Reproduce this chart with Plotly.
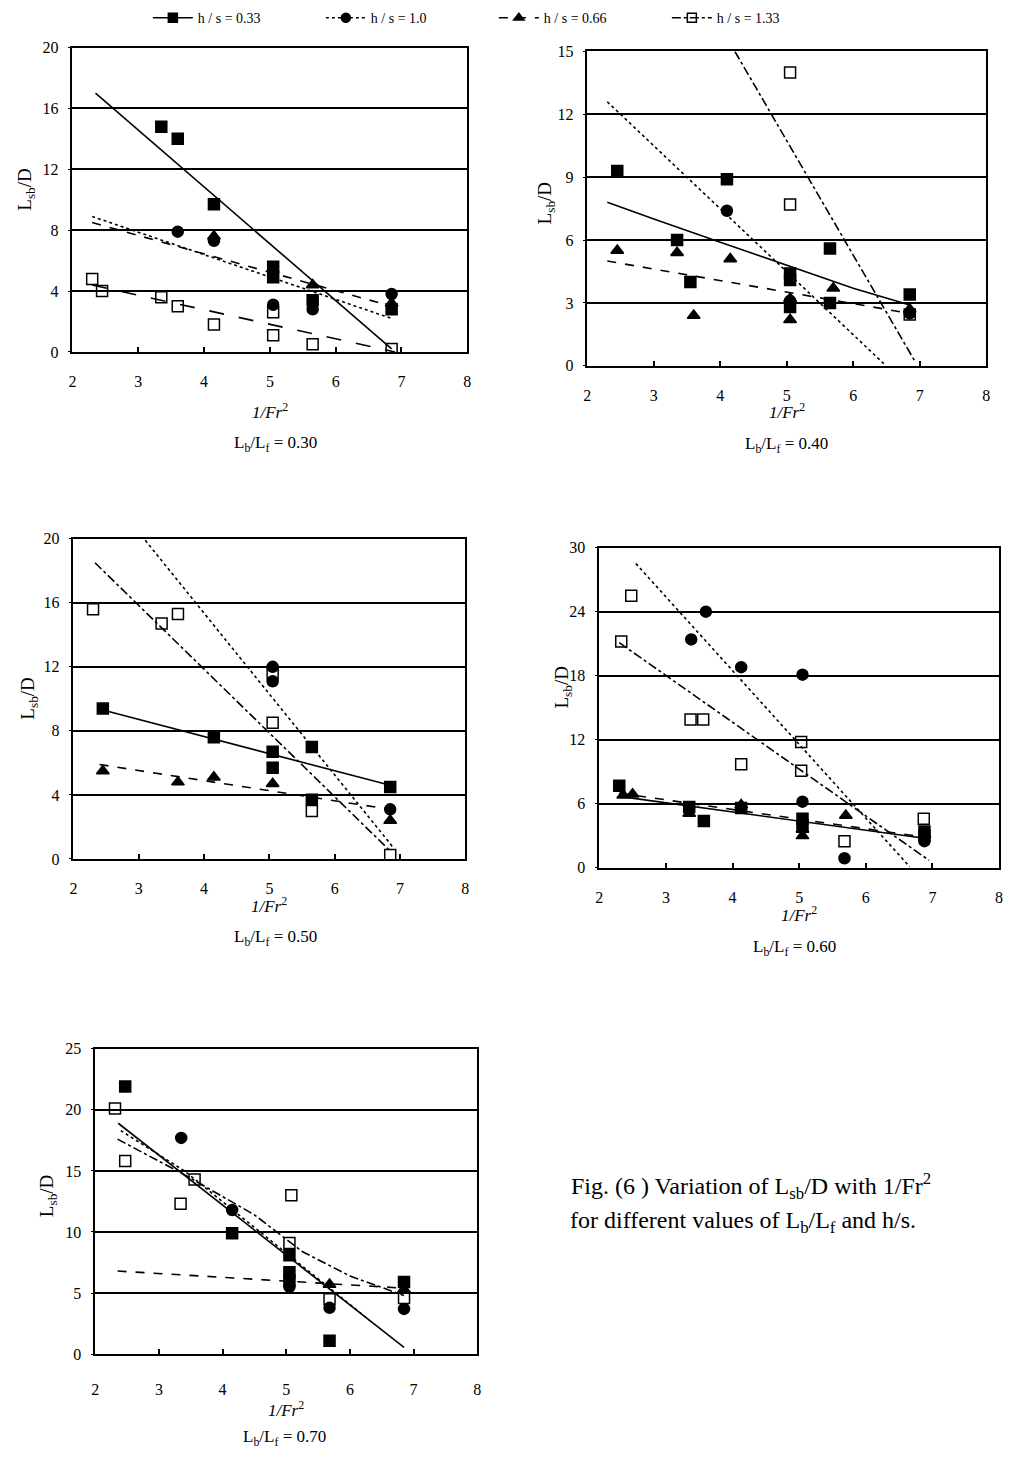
import plotly.graph_objects as go

W, H = 1012, 1459

# ---------------- DATA ----------------
SERIES = ["h / s = 0.33", "h / s = 1.0", "h / s = 0.66", "h / s = 1.33"]

# Panel Lb/Lf = 0.30
X30_H033 = [3.35, 3.6, 4.15, 5.05, 5.05, 5.65, 6.85]
Y30_H033 = [14.8, 14.0, 9.7, 5.6, 4.9, 3.4, 2.8]
X30_H10 = [3.6, 4.15, 5.05, 5.65, 6.85]
Y30_H10 = [7.9, 7.3, 3.1, 2.8, 3.8]
X30_H066 = [4.15, 5.65, 6.85]
Y30_H066 = [7.6, 4.4, 3.2]
X30_H133 = [2.3, 2.45, 3.35, 3.6, 4.15, 5.05, 5.05, 5.65, 6.85]
Y30_H133 = [4.8, 4.0, 3.6, 3.0, 1.8, 2.6, 1.1, 0.5, 0.2]
T30_H033 = ([2.35, 6.85], [17.0, 0.2])
T30_H10 = ([2.3, 6.85], [8.9, 2.2])
T30_H066 = ([2.3, 6.85], [8.5, 3.0])
T30_H133 = ([2.3, 6.9], [4.4, 0.0])

# Panel Lb/Lf = 0.40
X40_H033 = [2.45, 3.35, 3.55, 4.1, 5.05, 5.05, 5.05, 5.65, 5.65, 6.85]
Y40_H033 = [9.3, 6.0, 4.0, 8.9, 4.4, 4.1, 2.8, 5.6, 3.0, 3.4]
X40_H10 = [4.1, 5.05, 6.85]
Y40_H10 = [7.4, 3.1, 2.5]
X40_H066 = [2.45, 3.35, 3.6, 4.15, 5.05, 5.05, 5.7, 6.85]
Y40_H066 = [5.5, 5.4, 2.4, 5.1, 3.2, 2.2, 3.7, 2.7]
X40_H133 = [5.05, 5.05, 6.85]
Y40_H133 = [14.0, 7.7, 2.45]
T40_H033 = ([2.3, 3.0, 4.0, 5.0, 6.0, 6.85], [7.8, 7.0, 5.9, 4.8, 3.7, 2.9])
T40_H10 = ([2.3, 6.46], [12.6, 0.1])
T40_H066 = ([2.3, 6.85], [5.0, 2.5])
T40_H133 = ([4.22, 6.93], [15.0, 0.2])

# Panel Lb/Lf = 0.50
X50_H033 = [2.45, 4.15, 5.05, 5.05, 5.65, 5.65, 6.85]
Y50_H033 = [9.4, 7.6, 6.7, 5.7, 7.0, 3.7, 4.5]
X50_H10 = [5.05, 5.05, 6.85]
Y50_H10 = [12.0, 11.1, 3.1]
X50_H066 = [2.45, 3.6, 4.15, 5.05, 6.85]
Y50_H066 = [5.5, 4.8, 5.1, 4.7, 2.4]
X50_H133 = [2.3, 3.35, 3.6, 5.05, 5.05, 5.65, 6.85]
Y50_H133 = [15.6, 14.7, 15.3, 11.6, 8.5, 3.0, 0.25]
T50_H033 = ([2.45, 6.85], [9.3, 4.6])
T50_H10 = ([3.1, 6.9], [19.9, 0.7])
T50_H066 = ([2.4, 6.85], [5.9, 3.1])
T50_H133 = ([2.33, 6.85], [18.5, 0.5])

# Panel Lb/Lf = 0.60
X60_H033 = [2.3, 3.35, 3.57, 4.13, 5.05, 5.05, 6.88, 6.88]
Y60_H033 = [7.7, 5.7, 4.4, 5.6, 4.6, 4.0, 3.4, 3.0]
X60_H10 = [3.38, 3.6, 4.13, 5.05, 5.05, 5.68, 6.88]
Y60_H10 = [21.4, 24.0, 18.8, 18.1, 6.2, 0.9, 2.5]
X60_H066 = [2.36, 2.5, 3.35, 4.13, 5.05, 5.05, 5.7, 6.88]
Y60_H066 = [6.8, 6.9, 5.1, 5.9, 3.6, 3.0, 4.9, 3.1]
X60_H133 = [2.33, 2.48, 3.37, 3.56, 4.13, 5.03, 5.03, 5.68, 6.87]
Y60_H133 = [21.2, 25.5, 13.9, 13.9, 9.7, 11.8, 9.1, 2.5, 4.6]
T60_H033 = ([2.3, 6.85], [6.7, 2.8])
T60_H10 = ([2.55, 6.66], [28.5, 0.1])
T60_H066 = ([2.3, 6.85], [7.0, 2.9])
T60_H133 = ([2.3, 6.95], [21.1, 0.7])

# Panel Lb/Lf = 0.70
X70_H033 = [2.47, 4.15, 5.05, 5.05, 5.05, 5.68, 6.85]
Y70_H033 = [21.9, 9.9, 8.1, 6.7, 6.0, 1.1, 5.9]
X70_H10 = [3.35, 4.15, 5.05, 5.68, 6.85]
Y70_H10 = [17.7, 11.8, 5.5, 3.8, 3.7]
X70_H066 = [5.68, 6.85]
Y70_H066 = [5.7, 5.3]
X70_H133 = [2.31, 2.47, 3.34, 3.56, 5.08, 5.05, 5.68, 6.85]
Y70_H133 = [20.1, 15.8, 12.3, 14.3, 13.0, 9.1, 4.5, 4.6]
T70_H033 = ([2.36, 6.85], [18.9, 0.55])
T70_H10 = ([2.4, 3.4, 6.3], [18.3, 15.0, 2.8])
T70_H066 = ([2.35, 6.85], [6.8, 5.4])
T70_H133 = ([2.35, 3.5, 4.5, 5.25, 6.0, 6.85], [17.6, 14.4, 11.4, 8.4, 6.4, 4.8])

PANEL_LABELS = ["0.30", "0.40", "0.50", "0.60", "0.70"]
Y_MAX = [20, 15, 20, 30, 25]
Y_STEP = [4, 3, 4, 6, 5]

PANEL_POINTS = [
    [(X30_H033, Y30_H033), (X30_H10, Y30_H10), (X30_H066, Y30_H066), (X30_H133, Y30_H133)],
    [(X40_H033, Y40_H033), (X40_H10, Y40_H10), (X40_H066, Y40_H066), (X40_H133, Y40_H133)],
    [(X50_H033, Y50_H033), (X50_H10, Y50_H10), (X50_H066, Y50_H066), (X50_H133, Y50_H133)],
    [(X60_H033, Y60_H033), (X60_H10, Y60_H10), (X60_H066, Y60_H066), (X60_H133, Y60_H133)],
    [(X70_H033, Y70_H033), (X70_H10, Y70_H10), (X70_H066, Y70_H066), (X70_H133, Y70_H133)],
]
PANEL_TRENDS = [
    [T30_H033, T30_H10, T30_H066, T30_H133],
    [T40_H033, T40_H10, T40_H066, T40_H133],
    [T50_H033, T50_H10, T50_H066, T50_H133],
    [T60_H033, T60_H10, T60_H066, T60_H133],
    [T70_H033, T70_H10, T70_H066, T70_H133],
]

# ---------------- STYLE / LAYOUT ----------------
SYMBOLS = ["square", "circle", "triangle-up", "square-open"]
DASHES = ["solid", "dot", "dash", "dashdot"]
PANEL_DASH_133 = ["longdash", "dashdot", "dashdot", "dashdot", "dashdot"]

# plot-area boxes in pixels: (left, right, top, bottom)
BOXES = [
    (69, 467, 40, 348),
    (588, 990, 44, 362),
    (70, 465, 537, 861),
    (600, 1003, 546, 870),
    (92, 477, 1053, 1362),
]
XTITLE_Y = [408, 408, 908, 917, 1418]
CAPTION_Y = [441, 442, 941, 951, 1447]
CAPTION_X_SHIFT = [6, 0, 6, -5, -2]
YTITLE_X = [22, 546, 25, 563, 45]
YTITLE_SHIFT = [-10, -5, 0, -20, -5]
XLABEL_STANDOFF = [14, 14, 14, 14, 20]

FONT = "Liberation Serif"

fig = go.Figure()
layout = dict(
    width=W, height=H,
    margin=dict(l=0, r=0, t=0, b=0),
    paper_bgcolor="white", plot_bgcolor="white",
    font=dict(family=FONT, color="black", size=15),
    showlegend=True,
    legend=dict(orientation="h", x=145 / W, y=1 + 6 / H, xanchor="left", yanchor="top",
                font=dict(family=FONT, size=14), entrywidth=118, entrywidthmode="pixels",
                bgcolor="rgba(0,0,0,0)", itemwidth=40, tracegroupgap=0),
)
annotations = []

for i in range(5):
    l, r, t, b = BOXES[i]
    xa = "xaxis" if i == 0 else f"xaxis{i+1}"
    ya = "yaxis" if i == 0 else f"yaxis{i+1}"
    xr = "x" if i == 0 else f"x{i+1}"
    yr = "y" if i == 0 else f"y{i+1}"
    layout[xa] = dict(domain=[l / W, r / W], anchor=yr, range=[2, 8], dtick=1, tick0=2,
                      showgrid=False, zeroline=False, showline=True, linecolor="black",
                      linewidth=1.5, mirror=True, ticks="inside", ticklen=5, tickcolor="black",
                      tickwidth=1.5, ticklabelstandoff=XLABEL_STANDOFF[i],
                      tickfont=dict(family=FONT, size=16))
    layout[ya] = dict(domain=[1 - b / H, 1 - t / H], anchor=xr, range=[0, Y_MAX[i]],
                      dtick=Y_STEP[i], tick0=0, showgrid=True, gridcolor="black", gridwidth=1.6,
                      zeroline=False, showline=True, linecolor="black", linewidth=1.5,
                      mirror=True, ticks="outside", ticklen=3, tickcolor="black",
                      ticklabelstandoff=6, tickfont=dict(family=FONT, size=16))

    for s in range(4):
        px, py = PANEL_POINTS[i][s]
        tx, ty = PANEL_TRENDS[i][s]
        dash = PANEL_DASH_133[i] if s == 3 else DASHES[s]
        fig.add_trace(go.Scatter(x=tx, y=ty, mode="lines", xaxis=xr, yaxis=yr,
                                 line=dict(color="black", width=1.6, dash=dash),
                                 showlegend=False, hoverinfo="skip"))
        fig.add_trace(go.Scatter(x=px, y=py, mode="markers", xaxis=xr, yaxis=yr,
                                 marker=dict(symbol=SYMBOLS[s], size=11, color="black",
                                             line=dict(color="black", width=1.5)),
                                 showlegend=False, name=SERIES[s]))

    cx = (l + r) / 2
    annotations.append(dict(x=cx / W, y=1 - XTITLE_Y[i] / H, xref="paper", yref="paper",
                            xanchor="center", yanchor="middle",
                            text="<i>1/Fr</i><sup>2</sup>", showarrow=False,
                            font=dict(family=FONT, size=17)))
    annotations.append(dict(x=(cx + CAPTION_X_SHIFT[i]) / W, y=1 - CAPTION_Y[i] / H,
                            xref="paper", yref="paper",
                            xanchor="center", yanchor="middle",
                            text=f"L<sub>b</sub>/L<sub>f</sub> = {PANEL_LABELS[i]}", showarrow=False,
                            font=dict(family=FONT, size=17)))
    annotations.append(dict(x=YTITLE_X[i] / W, y=1 - ((t + b) / 2 + YTITLE_SHIFT[i]) / H,
                            xref="paper", yref="paper",
                            xanchor="center", yanchor="middle",
                            text="L<sub>sb</sub>/D", showarrow=False, textangle=-90,
                            font=dict(family=FONT, size=19)))

# legend entries
for s in range(4):
    fig.add_trace(go.Scatter(x=[None], y=[None], mode="lines+markers", name=SERIES[s],
                             line=dict(color="black", width=1.5, dash=DASHES[s]),
                             marker=dict(symbol=SYMBOLS[s], size=9, color="black",
                                         line=dict(color="black", width=1.5)),
                             showlegend=True))

annotations.append(dict(x=753 / W, y=1 - 1192 / H, xref="paper", yref="paper",
                        xanchor="center", yanchor="middle",
                        text="Fig. (6 ) Variation of L<sub>sb</sub>/D with 1/Fr<sup>2</sup>",
                        showarrow=False, font=dict(family=FONT, size=24)))
annotations.append(dict(x=745 / W, y=1 - 1228 / H, xref="paper", yref="paper",
                        xanchor="center", yanchor="middle",
                        text="for different values of L<sub>b</sub>/L<sub>f</sub> and h/s.",
                        showarrow=False, font=dict(family=FONT, size=24)))

layout["annotations"] = annotations
fig.update_layout(**layout)
fig.write_html("out.html")
